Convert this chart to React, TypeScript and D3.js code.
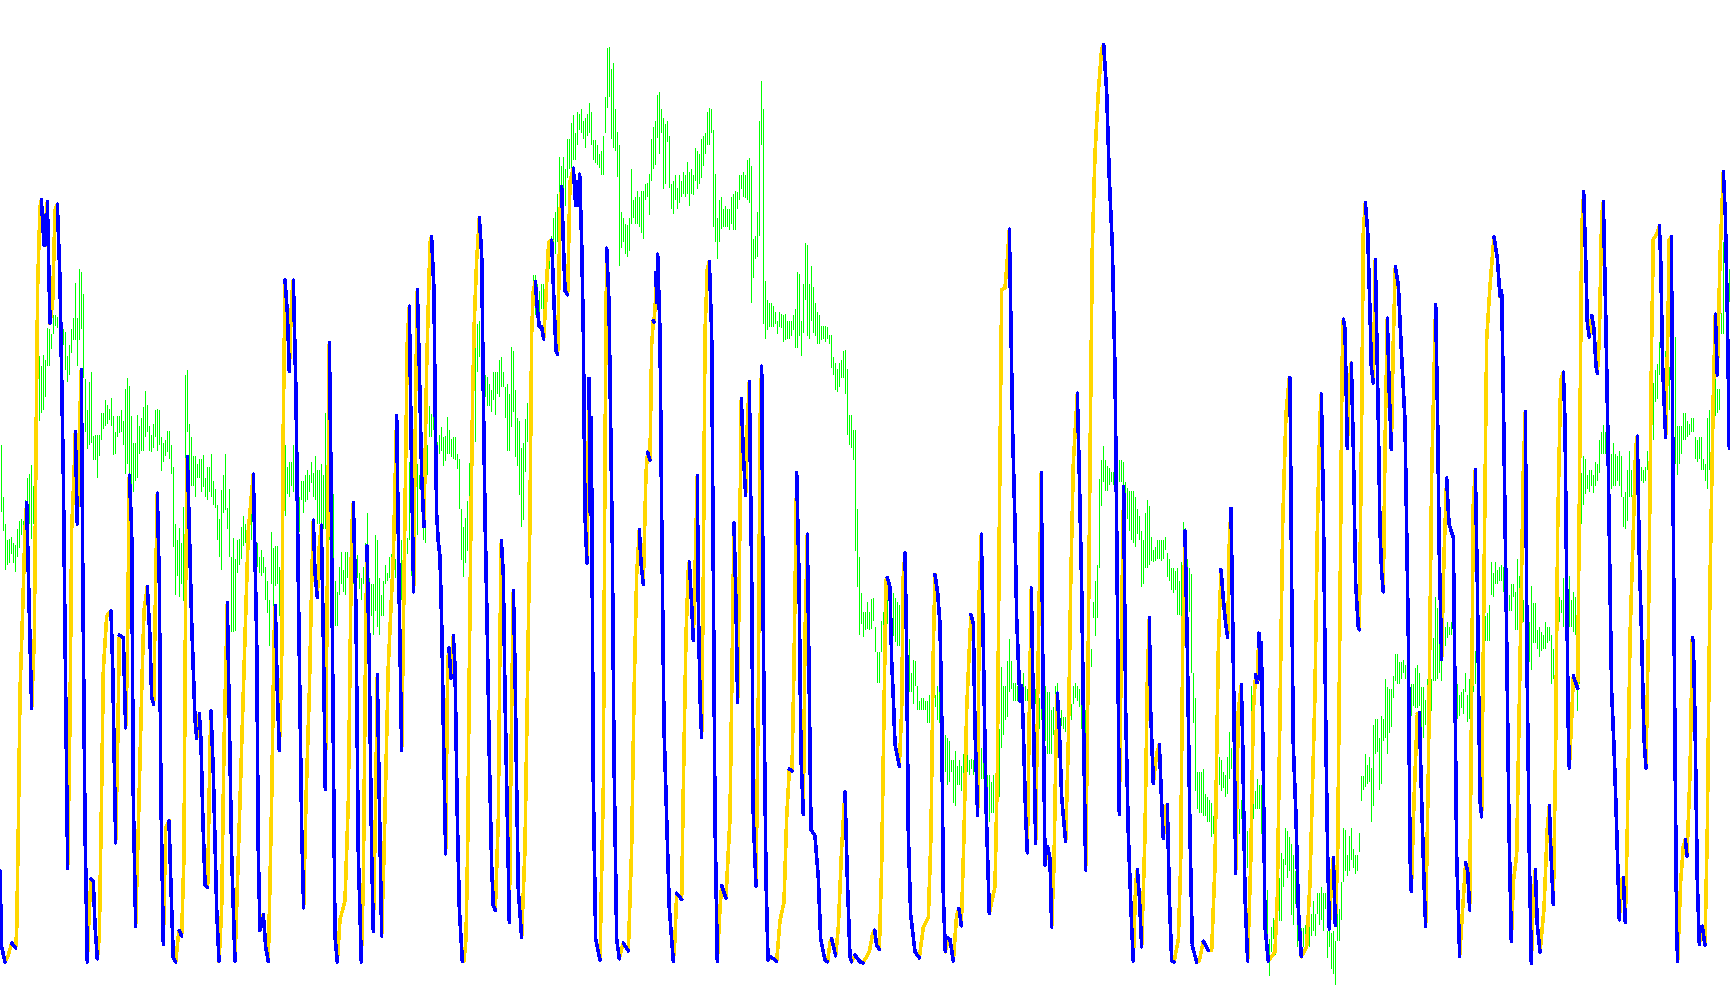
import React from "react";
import * as d3 from "d3";

const WIDTH = 1730;
const HEIGHT = 1005;
const BLUE = "#0000ff";
const GOLD = "#ffd700";
const GREEN = "#00ff00";

// Oscillator turning points, read window by window: [sample, level, sample, level, ...]
const oscillatorA = [0,1330,5,1470,15,1498,25,1485,35,1463,47,1472,50,1440,55,1250,60,1000,68,850,75,700,80,650,87,830,95,1030,103,900,108,550,113,250,120,105,124,92,132,175,136,120,138,175,142,95,150,320,158,280,165,110,172,100,180,240,190,600,197,1000,203,1325,210,1050,215,700,222,600,226,520,232,690,238,520,244,405,248,750,255,1250,262,1498,268,1400,273,1345,280,1350,285,1430,292,1492,298,1450,305,1180,310,960,320,860,333,850,338,950,347,1278,353,1100,358,895,370,900,377,1066,382,950,388,600,395,700,400,1200,407,1432,415,1250,425,1000,432,850,442,805,450,900,455,1010,461,1022,467,800,472,633,478,800,483,1200,490,1465,497,1250,507,1237,515,1400,520,1490,527,1498,535,1450,538,1440,545,1450,552,1300,557,800,562,565,568,700,575,870,585,1050,590,1085,598,1040,603,1090,608,1220,615,1355,623,1360,630,1100,633,1035,640,1150,650,1400,657,1497,665,1400,672,1100,682,835,688,1050,695,1300,705,1497,715,1300,725,1100,735,900,745,700,760,598,770,900,775,1300,780,1440,790,1410,797,1470,805,1497,815,1200,822,900,826,840,832,1000,838,1108,845,950,850,500,855,240,862,300,868,408,875,270,880,240,888,450,895,800,905,1250,911,1398,918,1200,928,1000,935,800,940,683,945,780,952,825,958,730,964,692,970,900,976,1180,982,800,988,355,993,600,1000,1100,1005,1450,1012,1498,1020,1420,1035,1385,1045,1200,1055,700,1060,650,1068,850,1075,1300,1084,1498,1090,1350,1097,900,1101,730,1108,950,1115,1300,1120,1442,1127,1200,1132,968,1138,1200,1145,1450,1152,1300,1165,950,1180,750,1190,490,1197,800,1205,1108,1212,800,1222,350,1228,288,1235,600,1241,815,1247,450,1252,258,1258,400,1265,600,1272,695,1280,400,1290,170,1294,160];
const oscillatorB = [5,345,12,430,15,600,20,800,25,845,30,870,36,1000,40,1150,47,1360,52,1100,55,1030,57,1020,63,1070,70,1000,75,1050,82,1300,88,1450,97,1537,102,1537,108,1500,113,1350,118,1050,122,850,128,600,133,480,140,380,148,310,155,370,160,600,165,800,172,1000,178,1200,185,1380,190,1445,196,1453,205,1300,210,1000,214,843,220,900,225,1100,232,1300,238,1473,243,1200,250,925,255,1050,260,1250,265,1420,275,1498,285,1350,292,1100,300,800,305,500,310,430,316,415,322,460,328,490,335,490,341,510,347,450,356,350,365,347,372,450,378,530,383,535,390,300,395,258,400,350,405,430,413,437,420,250,430,228,437,290,442,250,445,290,449,238,455,350,460,500,465,800,471,880,477,575,481,800,484,640,490,1250,497,1500,510,1535,520,1250,525,700,530,360,537,450,542,650,547,850,552,1200,560,1500,568,1533,578,1510,580,1507,595,1520,605,1350,612,1100,620,900,628,825,633,880,640,915,648,730,653,697,660,710,665,520,670,480,672,482,676,450,678,400,680,450,683,370,690,500,695,800,702,1150,710,1300,718,1450,730,1537,735,1500,740,1425,755,1435,760,1250,768,1000,775,890,778,878,785,950,790,1008,797,850,802,735,805,950,810,1100,815,1168,820,900,825,500,832,395,838,382,845,500,850,900,855,1300,862,1537,870,1450,875,1412,888,1433,900,1300,905,1100,912,813,918,950,923,1110,928,900,934,608,940,700,947,768,952,650,958,580,965,900,970,1300,978,1413,985,1100,990,650,995,555,1000,1000,1008,1400,1014,1535,1022,1530,1040,1537,1050,1470,1062,1440,1070,1300,1078,1220,1086,1223,1092,1050,1100,730,1107,900,1113,1200,1120,1295,1125,1000,1132,832,1138,1100,1143,1320,1155,1330,1165,1400,1172,1500,1185,1535,1193,1538,1200,1505,1205,1500,1217,1528,1225,1480,1235,1350,1245,1257,1252,1400,1260,1530,1265,1538,1275,1527,1290,1538,1300,1540];
const oscillatorC = [10,1507,28,1490,38,1460,44,1455,50,1480,58,1486,65,1350,72,1100,78,890,82,885,90,900,95,1020,100,1080,105,1155,118,1190,125,1100,130,880,135,845,140,1000,145,1300,152,1430,165,1490,178,1500,190,1450,205,1435,213,1300,220,1000,225,880,233,910,240,960,245,1100,250,1400,256,1490,265,1468,270,1470,280,1505,290,1430,297,1420,304,1448,312,1300,320,1100,328,1000,333,945,340,960,345,1130,353,1270,358,900,364,815,370,1000,378,1250,388,1428,405,1385,412,1200,418,800,425,420,435,417,442,370,448,322,452,450,458,650,465,800,470,950,478,1060,480,1085,485,1060,490,1130,497,1270,502,1330,508,1100,514,902,520,1100,527,1315,535,1000,544,715,548,1000,555,1350,563,1320,570,1340,575,1450,582,1350,588,1150,592,1072,598,1130,605,1240,617,1312,625,1150,632,900,640,700,652,587,658,720,665,900,672,1170,677,1358,683,1100,690,700,697,350,705,200,715,100,725,30,731,24,740,100,748,240,757,350,765,550,770,800,778,1268,785,950,791,738,797,1100,805,1300,815,1450,820,1505,827,1380,832,1357,838,1400,845,1482,855,1300,862,1050,868,950,872,1100,880,1218,890,1170,898,1155,905,1250,910,1307,918,1255,922,1252,928,1400,935,1505,942,1507,955,1470,962,1350,968,1000,975,810,982,1000,990,1300,997,1480,1010,1507,1018,1505,1030,1473,1045,1488,1055,1488,1065,1350,1075,1000,1083,872,1090,920,1097,960,1103,982,1108,830,1113,773,1118,950,1122,1100,1127,1363,1135,1100,1144,1058,1148,1150,1155,1400,1163,1505,1172,1350,1180,1100,1187,1042,1191,1055,1197,975,1200,1050,1204,990,1210,1200,1215,1450,1225,1505,1245,1490,1252,1400,1260,1100,1268,800,1278,620,1288,562];
const oscillatorD = [0,420,5,800,10,1100,18,1230,25,1400,34,1488,50,1470,60,1350,75,1000,82,700,90,490,94,450,100,650,108,1100,113,1300,118,1437,125,1340,130,1305,136,1430,143,1300,150,850,156,400,160,312,165,330,172,550,178,430,184,393,190,550,197,800,205,880,208,885,215,500,220,150,226,97,233,150,240,300,244,400,250,430,256,202,262,400,265,500,270,700,275,780,280,815,285,550,292,310,298,450,304,552,310,350,316,215,325,250,335,380,345,500,355,900,360,1300,364,1368,372,1200,382,1040,388,1038,395,1200,402,1350,407,1432,415,1150,425,600,437,285,443,500,448,750,455,940,462,750,470,605,477,690,490,715,495,1000,500,1300,509,1487,518,1400,527,1315,533,1330,539,1402,545,1000,550,650,556,590,562,800,570,1200,575,1230,582,800,590,350,600,250,612,160,622,200,630,270,635,260,640,450,650,900,657,1250,664,1460,670,1350,680,1300,690,950,700,590,706,482,712,1000,718,1300,724,1500,730,1380,736,1328,742,1430,750,1480,762,1400,772,1250,778,1210,783,1300,790,1392,797,1100,803,700,812,425,820,410,825,500,830,800,835,1070,838,1140,845,1050,850,970,863,993,868,650,875,150,881,77,887,200,892,320,898,345,905,305,912,330,918,400,922,412,928,350,935,120,940,95,947,300,953,500,960,800,965,1000,972,1100,980,1250,988,1420,995,1345,1000,1342,1006,1425,1012,1250,1020,900,1030,700,1037,550,1042,528,1048,750,1055,900,1062,1085,1068,1140,1075,900,1085,350,1090,165,1100,155,1108,140,1112,200,1118,400,1127,530,1133,350,1138,165,1144,160,1150,700,1155,1100,1160,1440,1163,1497,1172,1350,1180,1285,1186,1272,1191,1303,1200,1150,1207,900,1210,908,1215,1050,1222,1350,1228,1465,1237,1432,1245,1467,1252,1250,1260,800,1270,450,1276,303,1282,415,1290,200,1300,40,1306,120,1312,300,1318,550];

// Green range bars, flat [top, bottom, top, bottom, ...] in the same windows
const rangeA = [545,668,640,703,690,775,720,765,718,762,713,745,725,762,728,778,700,750,685,735,680,710,685,712,645,690,605,680,598,690,582,718,620,690,550,600,380,560,380,500,398,485,378,480,388,455,328,398,330,398,340,368,305,340,305,325,308,328,310,330,320,340,330,360,335,405,380,428,360,415,330,375,310,350,245,350,310,398,220,350,225,330,265,420,422,520,480,552,428,545,410,540,528,572,525,572,525,605,525,565,485,535,485,515,462,510,470,505,477,498,457,510,490,562,520,560,490,530,490,522,480,520,500,545,440,598,420,580,435,600,490,630,540,630,540,610,488,605,510,560,495,555,475,555,445,530,470,520,510,555,525,558,505,550,480,530,478,555,480,545,530,592,540,575,535,565,518,558,518,570,545,598,585,732,690,820,720,785,698,825,725,800,658,832,415,650,405,520,505,590,530,620,565,620,565,640,580,605,570,605,570,630,562,622,605,640,585,645,585,630,560,640,610,655,625,660,655,720,680,750,628,775,600,670,560,665,660,700,625,750,750,890,715,890,755,888,720,780,718,765,695,755,675,730,690,725,690,720,640,715,650,720,670,730,715,850,725,770,750,780,738,785,750,780,770,830,795,855,830,915,705,800,735,850,730,805,730,800,770,860,720,980,550,750,545,675,585,635,575,640,575,620,545,630,580,635,585,700,640,705,610,645,610,670,600,650,590,645,600,630,575,615,595,640,565,645,590,690,590,690,580,700,600,700,485,700,440,720,590,720,620,740,635,760,795,878,815,878,770,820,742,800,775,815,742,820,742,790,750,780,740,770,770,800,765,810,748,790,780,810,790,830,770,800,725,860,670,770,790,870,800,860,800,895,710,850,720,880,790,895,820,860,795,860,765,800,780,795,750,790,745,780,760,800,755,790,755,790,800,820,720,830,660,745,600,745,715,745,575,720,750,785,575,640,610,660,580,710,600,625,530,665,690,720,660,725,545,600,472,530];
const rangeB = [633,672,630,660,640,700,680,700,668,700,655,695,672,720,670,712,638,700,660,700,675,705,672,708,672,710,700,725,708,790,790,875,820,903,805,880,778,860,715,805,690,760,690,710,480,680,485,565,480,540,475,500,560,595,570,605,572,620,585,620,595,630,565,610,565,635,565,600,545,605,540,590,565,590,590,640,585,695,600,695,523,655,530,630,595,705,640,720,645,767,690,820,682,808,642,730,615,680,600,650,445,495,405,455,405,470,420,480,430,470,420,460,420,460,395,430,350,395,350,395,340,390,310,380,300,370,270,350,210,300,225,280,210,265,230,290,180,245,180,230,153,230,140,215,170,215,135,190,138,165,130,170,150,180,145,195,138,175,120,170,135,190,182,215,182,220,190,222,205,228,200,240,175,240,110,170,30,128,28,110,65,180,55,195,130,200,168,242,190,390,300,360,310,350,320,370,322,375,310,365,230,320,280,310,275,320,265,320,275,325,265,335,265,345,255,280,252,275,238,305,180,250,160,230,150,222,108,178,102,205,130,170,145,262,155,255,150,185,175,260,255,295,250,303,240,280,260,295,240,285,250,275,235,270,240,275,218,270,235,290,230,270,240,272,195,250,200,262,205,255,180,245,175,225,170,205,135,190,128,190,130,170,165,325,238,350,310,378,280,350,275,328,295,325,290,325,295,325,295,330,275,320,270,330,265,330,268,295,240,280,240,262,235,275,240,278,215,280,212,285,225,450,345,410,340,378,300,375,150,340,85,190,130,485,415,510,445,495,450,490,450,490,455,490,465,485,480,502,465,490,468,492,470,515,468,512,480,510,480,510,480,505,470,495,460,525,400,525,402,505,480,538,420,500,352,445,355,505,420,510,390,480,425,500,450,505,465,518,470,518,488,512,488,510,488,515,490,510,503,518,503,558,540,570,550,595,560,598,550,590,545,575,530,575,528,600,560,668,635,685,635,690,660,710,660,860,790,920,870,998,930,985,960,1000,958,985,945,985,955,985];
const rangeC = [910,960,940,982,940,970,925,968,940,970,920,968,918,955,965,1005,1005,1055,1005,1055,955,1005,940,990,950,990,900,960,890,960,905,1010,910,980,918,990,925,995,930,995,915,995,880,1000,1000,1020,1020,1050,985,1070,1040,1070,1018,1090,1020,1060,1060,1100,1085,1100,1080,1100,1080,1100,1085,1100,1085,1120,1075,1120,1060,1120,1060,1095,1075,1095,1060,1115,1050,1120,1075,1200,1120,1200,1140,1200,1145,1220,1150,1215,1180,1200,1180,1250,1165,1255,1190,1220,1180,1220,1190,1230,1170,1210,1175,1210,1170,1200,1180,1205,1178,1195,1180,1205,1180,1200,1175,1200,1160,1195,1160,1210,1185,1210,1205,1270,1205,1280,1205,1280,1215,1265,1205,1265,1210,1235,1130,1280,1130,1240,1030,1160,1060,1140,1060,1115,1020,1110,985,1070,1020,1065,1055,1085,1055,1085,1060,1085,1060,1085,1060,1080,1040,1085,1060,1085,1065,1085,1060,1075,1060,1080,1060,1100,1065,1090,1070,1120,1080,1130,1025,1115,1065,1150,1060,1150,1070,1170,1070,1170,1100,1170,1095,1140,1060,1135,1055,1115,1090,1130,1100,1125,1110,1130,1110,1135,1085,1100,1060,1120,1090,1115,1060,1090,1055,1080,1060,1085,1065,1095,1080,1130,1080,1130,1100,1170,1040,1200,1010,1070,1000,1030,925,950,890,980,865,950,725,870,695,770,672,730,695,745,705,745,708,735,715,730,715,735,715,735,695,745,695,730,695,730,698,735,730,760,740,790,745,810,745,825,745,830,755,835,775,815,785,825,810,900,825,895,780,870,760,870,770,865,820,858,840,860,835,858,825,855,825,855,825,858,825,855,820,840,845,885,855,890,870,905,870,910,875,905,870,945,890,945,860,950,795,880,805,870,855,940,870,940,880,1040,1040,1120,1080,1230,1200,1260,1200,1265,1200,1265,1195,1270,1235,1270,1240,1280,1245,1280,1250,1305,1270,1300,1220,1260,1200,1255,1175,1220,1180,1230,1200,1225,1205,1240,1175,1235,1135,1210,1160,1195,1190,1280,1230,1280,1250,1290,1260,1300,1245,1275,1250,1300,1300,1360,1295,1355,1320,1335,1060,1200,1230,1275,1230,1260,1210,1260,1220,1260,1220,1300,1300,1340,1390,1440,1390,1500,1470,1530,1450,1490,1435,1470,1460,1495,1370,1440,1370,1440,1330,1440,1340,1385,1290,1350,1295,1370,1305,1360,1315,1390,1330,1370,1335,1430,1425,1460,1415,1490];
const rangeD = [1280,1412,1300,1430,1330,1390,1420,1470,1420,1460,1435,1470,1435,1470,1430,1465,1410,1450,1430,1470,1410,1450,1385,1440,1410,1450,1370,1410,1370,1430,1360,1420,1370,1440,1370,1400,1440,1490,1430,1470,1445,1510,1440,1520,1460,1540,1400,1460,1400,1460,1350,1420,1250,1350,1255,1330,1300,1340,1265,1330,1250,1310,1290,1325,1300,1335,1300,1330,1260,1295,1155,1200,1155,1180,1115,1175,1135,1170,1120,1165,1140,1240,1060,1210,1050,1115,1050,1110,1085,1180,1045,1170,1050,1090,975,1085,990,1115,995,1075,995,1065,970,1010,930,980,930,985,945,985,945,975,940,965,950,975,980,1060,940,1040,985,1045,985,1025,955,1030,950,1030,965,1025,990,1090,990,1085,1015,1060,975,1035,1000,1040,975,1035,900,980,825,980,845,975,900,965,890,980,870,905,880,915,870,900,880,895,870,895,930,1000,980,1035,985,1050,1005,1045,1000,1030,995,1040,965,1000,1005,1055,975,1050,945,1000,945,1000,925,985,925,960,930,955,935,960,890,960,860,905,855,905,840,905,760,820,780,825,760,800,775,800,770,795,765,795,770,815,790,815,800,830,820,850,800,850,800,825,815,885,755,885,785,890,790,850,830,870,840,870,860,900,870,945,805,960,835,910,835,910,885,920,880,935,890,925,895,920,870,920,880,910,880,905,895,985,920,975,875,960,835,875,825,870,830,855,790,880,780,880,830,880,785,880,830,880,815,890,825,895,895,1035,895,985,595,690,565,655,570,635,600,625,590,630,590,620,600,632,575,620,580,610,535,595,520,560,508,560,520,560,560,600,570,625,560,625,540,620,560,620,565,610,555,620,565,640,640,695,630,700,590,685,555,640,590,640,580,610,545,610,580,610,585,610,585,610,590,615,585,610,555,590,480,590,490,530,430,535,405,465,395,460,355,415,365,410,360,400,370,420,370,470,400,480,350,440,480,560,345,580,510,600,510,580,510,560,485,535,485,535,500,530,505,525,495,520,495,520,530,570,535,575,530,570,530,590,570,590,580,610,495,625,480,590,460,515,430,515,420,490,440,485,440,480,300,340,170,340,200,250,220,250,220,280];

// One window per crop of the sheet: first pixel column, first and last pixel row
const windowsSpec = [
  { osc: oscillatorA, range: rangeA, left: 0, right: 430, top: 150, bottom: 1000 },
  { osc: oscillatorB, range: rangeB, left: 430, right: 860, top: 30, bottom: 980 },
  { osc: oscillatorC, range: rangeC, left: 860, right: 1290, top: 30, bottom: 1000 },
  { osc: oscillatorD, range: rangeD, left: 1290, right: 1730, top: 150, bottom: 1000 },
];

type Pt = [number, number];
const points: Pt[] = [];
const bars: { x: number; y0: number; y1: number }[] = [];

windowsSpec.forEach((w) => {
  const xs = d3.scaleLinear().domain([0, 3]).range([w.left, w.left + 1]);
  const ys = d3.scaleLinear().domain([0, 1568]).range([w.top, w.bottom]);
  for (let i = 0; i + 1 < w.osc.length; i += 2) points.push([xs(w.osc[i]), ys(w.osc[i + 1])]);
  for (let i = 0; i + 1 < w.range.length; i += 2) {
    const x = xs(5 + 3 * i);
    if (x < w.right) bars.push({ x, y0: ys(w.range[i]), y1: ys(w.range[i + 1]) });
  }
});

const line = d3.line<Pt>().x((d) => d[0]).y((d) => d[1]);
const segments = d3.pairs(points);
const rising = segments.filter(([a, b]) => b[1] <= a[1]);
const falling = segments.filter(([a, b]) => b[1] > a[1]);

export default function App() {
  return (
    <svg
      width={WIDTH}
      height={HEIGHT}
      viewBox={`0 0 ${WIDTH} ${HEIGHT}`}
      style={{ position: "absolute", left: 0, top: 0, display: "block", background: "#fff" }}
    >
      <g stroke={GREEN} strokeWidth={1} shapeRendering="crispEdges">
        {bars.map((b, i) => (
          <line key={i} x1={Math.floor(b.x) + 0.5} x2={Math.floor(b.x) + 0.5} y1={b.y0} y2={b.y1} />
        ))}
      </g>
      <path d={rising.map((s) => line(s)).join("")} fill="none" stroke={GOLD} strokeWidth={3.6} strokeLinecap="round" shapeRendering="crispEdges" />
      <path d={falling.map((s) => line(s)).join("")} fill="none" stroke={BLUE} strokeWidth={3.6} strokeLinecap="round" shapeRendering="crispEdges" />
    </svg>
  );
}
